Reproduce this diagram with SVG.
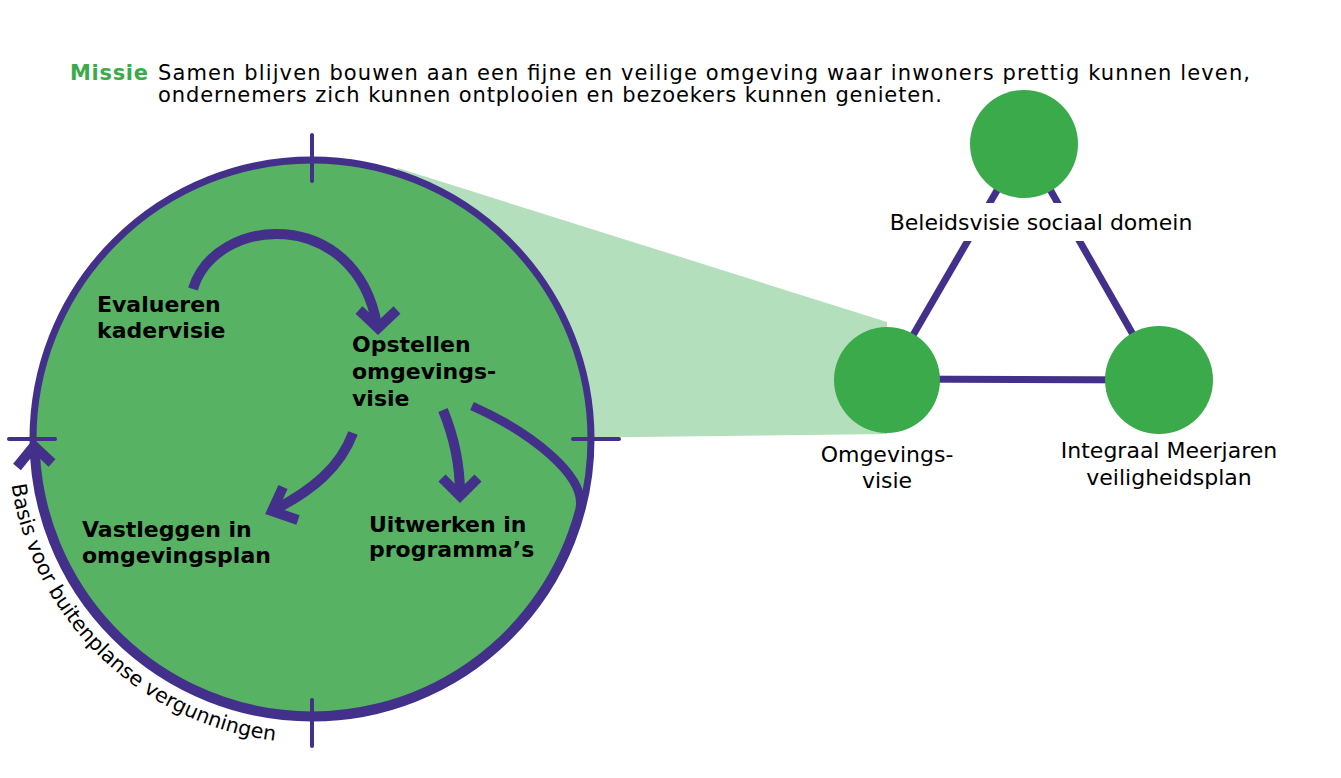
<svg xmlns="http://www.w3.org/2000/svg" width="1341" height="778" viewBox="0 0 1341 778">
<defs>
<style>
text{font-family:"DejaVu Sans","Verdana",sans-serif;font-size:22px;fill:#000}
.b{font-weight:bold}
.m{font-size:21px}
.p{fill:none;stroke:#42308a;stroke-linecap:butt}
.arr{fill:none;stroke:#42308a;stroke-width:10}
.head{fill:none;stroke:#42308a;stroke-width:10;stroke-linejoin:miter;stroke-miterlimit:10}
.tick{stroke:#42308a;stroke-width:4;stroke-linecap:round}
.node{fill:#3aaa4a}
.tri{stroke:#42308a;stroke-width:7}
</style>
<path id="arcText" d="M 8 439 A 304 304 0 0 0 338.5 741.8"/>
</defs>
<rect width="1341" height="778" fill="#ffffff"/>

<g id="mission">
<text x="70" y="80" class="b m" style="fill:#3aaa4a" textLength="78" lengthAdjust="spacing">Missie</text>
<text x="158" y="80" class="m" textLength="1092" lengthAdjust="spacing">Samen blijven bouwen aan een fijne en veilige omgeving waar inwoners prettig kunnen leven,</text>
<text x="158" y="102" class="m" textLength="784" lengthAdjust="spacing">ondernemers zich kunnen ontplooien en bezoekers kunnen genieten.</text>
</g>

<g id="wedge">
<polygon points="398,168 887,322 887,434 312,441" fill="#b4dfbc"/>
</g>

<g id="cycle">
<circle cx="312" cy="439" r="279" fill="#57b263" stroke="#42308a" stroke-width="7"/>
</g>

<g id="connectors">
<path class="arr" d="M 193 289 C 215 215, 355 205, 377 325"/>
<polyline class="head" points="359,310 378,328 397,310"/>
<path class="arr" d="M 353 433 C 340 468, 312 490, 276 509"/>
<polyline class="head" points="283,487 272,511 298,520"/>
<path class="arr" d="M 443 410 C 452 432, 460 460, 460 494"/>
<polyline class="head" points="442,478 460,496 478,478"/>
<path class="p" stroke-width="9" d="M 472 406 C 530 432, 588 476, 579.7 510 A 277 277 0 0 1 35.3 452"/>
<polyline class="head" points="17,467 34,446 52,463"/>
<line class="tick" x1="312" y1="135" x2="312" y2="181"/>
<line class="tick" x1="312" y1="700" x2="312" y2="746"/>
<line class="tick" x1="9" y1="439" x2="55" y2="439"/>
<line class="tick" x1="573" y1="439" x2="619" y2="439"/>
<line class="tri" x1="887" y1="380" x2="1024" y2="144"/>
<line class="tri" x1="1024" y1="144" x2="1159" y2="380"/>
<line class="tri" x1="887" y1="379" x2="1159" y2="380"/>
</g>

<g id="step-evalueren">
<text x="97" y="312" class="b">Evalueren</text>
<text x="97" y="338" class="b">kadervisie</text>
</g>
<g id="step-opstellen">
<text x="352" y="352" class="b">Opstellen</text>
<text x="352" y="379" class="b">omgevings-</text>
<text x="352" y="406" class="b">visie</text>
</g>
<g id="step-vastleggen">
<text x="82" y="537" class="b">Vastleggen in</text>
<text x="82" y="563" class="b">omgevingsplan</text>
</g>
<g id="step-uitwerken">
<text x="369" y="532" class="b">Uitwerken in</text>
<text x="369" y="557" class="b">programma’s</text>
</g>
<g id="arc-label">
<text style="font-size:20.5px"><textPath href="#arcText" startOffset="46">Basis voor buitenplanse vergunningen</textPath></text>
</g>

<g id="node-beleidsvisie">
<rect x="940" y="203" width="180" height="38" fill="#ffffff"/>
<circle class="node" cx="1024" cy="144" r="54"/>
<text x="1041" y="230" text-anchor="middle">Beleidsvisie sociaal domein</text>
</g>
<g id="node-omgevingsvisie">
<circle class="node" cx="887" cy="380" r="53"/>
<text x="887" y="462" text-anchor="middle">Omgevings-</text>
<text x="887" y="488" text-anchor="middle">visie</text>
</g>
<g id="node-veiligheidsplan">
<circle class="node" cx="1159" cy="380" r="54"/>
<text x="1169" y="458" text-anchor="middle">Integraal Meerjaren</text>
<text x="1169" y="485" text-anchor="middle">veiligheidsplan</text>
</g>
</svg>
